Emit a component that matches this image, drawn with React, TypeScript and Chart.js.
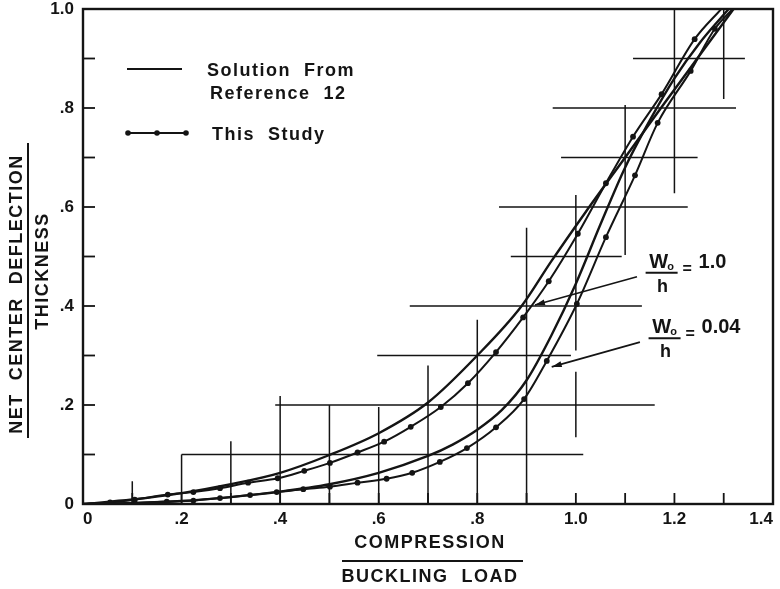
import React, { useEffect, useRef } from 'react';
import { Chart, registerables } from 'chart.js';

Chart.register(...registerables);

const INK = '#141414';
const FONT = '"Liberation Sans", "DejaVu Sans", sans-serif';

// ---- axis ticks ----
const xTickLabels = ['0', '.2', '.4', '.6', '.8', '1.0', '1.2', '1.4'];
const yTickLabels = ['0', '.2', '.4', '.6', '.8', '1.0'];
const xMinorTicks = [0.1, 0.2, 0.3, 0.4, 0.5, 0.6, 0.7, 0.8, 0.9, 1.0, 1.1, 1.2, 1.3];
const yMinorTicks = [0.1, 0.2, 0.3, 0.4, 0.5, 0.6, 0.7, 0.8, 0.9];

// ---- Solution from Reference 12, Wo/h = 1.0 (solid) ----
const refW1X = [0, 0.1, 0.2, 0.3, 0.4, 0.5, 0.6, 0.7, 0.8, 0.89, 0.95, 1.02, 1.1, 1.18, 1.25, 1.32];
const refW1Y = [0, 0.009, 0.022, 0.04, 0.063, 0.099, 0.143, 0.205, 0.3, 0.4, 0.49, 0.59, 0.7, 0.81, 0.905, 1.0];

// ---- Solution from Reference 12, Wo/h = 0.04 (solid) ----
const refW004X = [0, 0.1, 0.2, 0.3, 0.4, 0.5, 0.6, 0.7, 0.75, 0.8, 0.85, 0.9, 0.95, 1.0, 1.05, 1.1, 1.15, 1.2, 1.25, 1.31];
const refW004Y = [0, 0.002, 0.006, 0.014, 0.025, 0.04, 0.063, 0.097, 0.12, 0.15, 0.19, 0.25, 0.34, 0.445, 0.565, 0.68, 0.775, 0.86, 0.93, 1.0];

// ---- This Study, Wo/h = 1.0 (line with dots) ----
const studyW1X = [0, 0.055, 0.105, 0.172, 0.224, 0.278, 0.335, 0.395, 0.449, 0.501, 0.557, 0.611, 0.665, 0.726, 0.781, 0.838, 0.893, 0.945, 1.004, 1.061, 1.116, 1.174, 1.241, 1.295];
const studyW1Y = [0, 0.003, 0.009, 0.019, 0.024, 0.032, 0.043, 0.052, 0.067, 0.083, 0.104, 0.126, 0.156, 0.196, 0.244, 0.307, 0.377, 0.45, 0.546, 0.648, 0.742, 0.828, 0.939, 1.0];

// ---- This Study, Wo/h = 0.04 (line with dots) ----
const studyW004X = [0, 0.055, 0.105, 0.17, 0.224, 0.278, 0.339, 0.393, 0.447, 0.501, 0.557, 0.616, 0.668, 0.724, 0.779, 0.838, 0.895, 0.941, 1.002, 1.061, 1.12, 1.166, 1.233, 1.282, 1.318];
const studyW004Y = [0, 0.001, 0.002, 0.005, 0.007, 0.012, 0.018, 0.024, 0.03, 0.035, 0.043, 0.051, 0.063, 0.085, 0.113, 0.155, 0.212, 0.289, 0.404, 0.539, 0.664, 0.77, 0.875, 0.96, 1.0];

// ---- construction (plotting) lines of the original drawing ----
const hLineY = [0.1, 0.2, 0.3, 0.4, 0.5, 0.6, 0.7, 0.8, 0.9];
const hLineX1 = [0.2, 0.39, 0.597, 0.663, 0.868, 0.844, 0.97, 0.953, 1.116];
const hLineX2 = [1.015, 1.16, 0.99, 1.134, 1.093, 1.227, 1.247, 1.325, 1.343];
const vLineX = [0.1, 0.2, 0.3, 0.4, 0.5, 0.6, 0.7, 0.8, 0.9, 1.0, 1.0, 1.1, 1.2, 1.3];
const vLineY1 = [0, 0, 0, 0, 0, 0, 0, 0, 0, 0.135, 0.31, 0.503, 0.628, 0.818];
const vLineY2 = [0.046, 0.1, 0.127, 0.218, 0.2, 0.196, 0.28, 0.372, 0.558, 0.267, 0.624, 0.806, 1.0, 1.0];

// ---- annotation arrows (data coordinates: from label to curve) ----
const arrowFromX = [1.124, 1.13];
const arrowFromY = [0.459, 0.327];
const arrowToX = [0.917, 0.951];
const arrowToY = [0.402, 0.277];
const labelValues = ['1.0', '0.04'];
const labelBarX = [1.174, 1.18];
const labelBarY = [0.467, 0.335];

const pts = (xs: number[], ys: number[]) => xs.map((x, i) => ({ x, y: ys[i] }));

function buildSegments() {
  const data: { x: number; y: number | null }[] = [];
  hLineY.forEach((y, i) => {
    data.push({ x: hLineX1[i], y }, { x: hLineX2[i], y }, { x: hLineX2[i], y: null });
  });
  vLineX.forEach((x, i) => {
    data.push({ x, y: vLineY1[i] }, { x, y: vLineY2[i] }, { x, y: null });
  });
  return data;
}

function drawFracLabel(ctx: CanvasRenderingContext2D, cx: number, cy: number, value: string) {
  ctx.save();
  ctx.fillStyle = INK;
  ctx.strokeStyle = INK;
  ctx.font = `bold 20px ${FONT}`;
  ctx.textAlign = 'center';
  ctx.textBaseline = 'alphabetic';
  ctx.fillText('W', cx - 3, cy - 5);
  // subscript o
  ctx.font = `bold 11px ${FONT}`;
  ctx.fillText('o', cx + 9, cy - 3);
  // fraction bar
  ctx.lineWidth = 2;
  ctx.beginPath();
  ctx.moveTo(cx - 16, cy);
  ctx.lineTo(cx + 16, cy);
  ctx.stroke();
  ctx.font = `bold 18px ${FONT}`;
  ctx.fillText('h', cx + 1, cy + 19);
  ctx.textAlign = 'left';
  ctx.font = `bold 16px ${FONT}`;
  ctx.fillText('=', cx + 21, cy + 1);
  ctx.font = `bold 20px ${FONT}`;
  ctx.fillText(value, cx + 37, cy - 5);
  ctx.restore();
}

const decorPlugin = {
  id: 'decor',
  afterDraw(chart: any) {
    const { ctx, chartArea: ca } = chart;
    const xs = chart.scales.x;
    const ys = chart.scales.y;
    const line = (x1: number, y1: number, x2: number, y2: number) => {
      ctx.beginPath();
      ctx.moveTo(x1, y1);
      ctx.lineTo(x2, y2);
      ctx.stroke();
    };
    ctx.save();
    ctx.strokeStyle = INK;
    ctx.fillStyle = INK;
    ctx.lineCap = 'butt';

    // frame
    ctx.lineWidth = 2.4;
    ctx.strokeRect(ca.left, ca.top, ca.right - ca.left, ca.bottom - ca.top);

    // inward ticks
    ctx.lineWidth = 1.8;
    xMinorTicks.forEach((v) => {
      const px = xs.getPixelForValue(v);
      line(px, ca.bottom, px, ca.bottom - 11);
    });
    yMinorTicks.forEach((v) => {
      const py = ys.getPixelForValue(v);
      line(ca.left, py, ca.left + 12, py);
    });

    // y-axis title (fraction)
    ctx.font = `bold 18px ${FONT}`;
    (ctx as any).letterSpacing = '1.5px';
    ctx.textAlign = 'center';
    ctx.textBaseline = 'middle';
    ctx.save();
    ctx.translate(17, 294);
    ctx.rotate(-Math.PI / 2);
    ctx.fillText('NET  CENTER  DEFLECTION', 0, 0);
    ctx.restore();
    ctx.save();
    ctx.translate(43, 271);
    ctx.rotate(-Math.PI / 2);
    ctx.fillText('THICKNESS', 0, 0);
    ctx.restore();
    ctx.lineWidth = 2;
    line(28, 143, 28, 438);

    // x-axis title (fraction)
    ctx.fillText('COMPRESSION', 430, 543);
    ctx.fillText('BUCKLING  LOAD', 430, 577);
    line(342, 561, 523, 561);

    // legend
    ctx.textAlign = 'left';
    ctx.textBaseline = 'alphabetic';
    ctx.font = `bold 18px ${FONT}`;
    (ctx as any).letterSpacing = '1.5px';
    ctx.lineWidth = 2;
    line(127, 69, 182, 69);
    ctx.fillText('Solution  From', 207, 76);
    ctx.fillText('Reference  12', 210, 99);
    line(128, 133, 186, 133);
    [128, 157, 186].forEach((px) => {
      ctx.beginPath();
      ctx.arc(px, 133, 2.8, 0, Math.PI * 2);
      ctx.fill();
    });
    ctx.fillText('This  Study', 212, 140);
    (ctx as any).letterSpacing = '0px';

    // annotation arrows
    ctx.lineWidth = 1.6;
    arrowFromX.forEach((fx, i) => {
      const x1 = xs.getPixelForValue(fx);
      const y1 = ys.getPixelForValue(arrowFromY[i]);
      const x2 = xs.getPixelForValue(arrowToX[i]);
      const y2 = ys.getPixelForValue(arrowToY[i]);
      line(x1, y1, x2, y2);
      const ang = Math.atan2(y2 - y1, x2 - x1);
      const L = 10;
      const W = 3;
      ctx.beginPath();
      ctx.moveTo(x2, y2);
      ctx.lineTo(x2 - L * Math.cos(ang) + W * Math.sin(ang), y2 - L * Math.sin(ang) - W * Math.cos(ang));
      ctx.lineTo(x2 - L * Math.cos(ang) - W * Math.sin(ang), y2 - L * Math.sin(ang) + W * Math.cos(ang));
      ctx.closePath();
      ctx.fill();
    });
    labelValues.forEach((v, i) => {
      drawFracLabel(ctx, xs.getPixelForValue(labelBarX[i]), ys.getPixelForValue(labelBarY[i]), v);
    });

    ctx.restore();
  },
};

export default function App() {
  const canvasRef = useRef<HTMLCanvasElement | null>(null);

  useEffect(() => {
    const canvas = canvasRef.current;
    if (!canvas) return;
    const lastIdx = (arr: number[]) => arr.length - 1;
    const dotRadius = (arr: number[]) => (c: any) =>
      c.dataIndex === 0 || c.dataIndex === lastIdx(arr) ? 0 : 2.9;

    const chart = new Chart(canvas, {
      type: 'scatter',
      data: {
        datasets: [
          {
            label: 'construction',
            data: buildSegments() as any,
            showLine: true,
            spanGaps: false,
            borderColor: INK,
            borderWidth: 1.5,
            pointRadius: 0,
            tension: 0,
          },
          {
            label: 'Solution From Reference 12 (Wo/h = 1.0)',
            data: pts(refW1X, refW1Y),
            showLine: true,
            borderColor: INK,
            borderWidth: 2.4,
            pointRadius: 0,
            cubicInterpolationMode: 'monotone',
          },
          {
            label: 'Solution From Reference 12 (Wo/h = 0.04)',
            data: pts(refW004X, refW004Y),
            showLine: true,
            borderColor: INK,
            borderWidth: 2.4,
            pointRadius: 0,
            cubicInterpolationMode: 'monotone',
          },
          {
            label: 'This Study (Wo/h = 1.0)',
            data: pts(studyW1X, studyW1Y),
            showLine: true,
            borderColor: INK,
            borderWidth: 2,
            pointRadius: dotRadius(studyW1X),
            pointBackgroundColor: INK,
            pointBorderColor: INK,
            pointBorderWidth: 0,
            cubicInterpolationMode: 'monotone',
          },
          {
            label: 'This Study (Wo/h = 0.04)',
            data: pts(studyW004X, studyW004Y),
            showLine: true,
            borderColor: INK,
            borderWidth: 2,
            pointRadius: dotRadius(studyW004X),
            pointBackgroundColor: INK,
            pointBorderColor: INK,
            pointBorderWidth: 0,
            cubicInterpolationMode: 'monotone',
          },
        ],
      },
      options: {
        animation: false,
        responsive: false,
        devicePixelRatio: 1,
        events: [],
        layout: { padding: { left: 0, right: 7, top: 9, bottom: 0 } },
        plugins: {
          legend: { display: false },
          tooltip: { enabled: false },
        },
        scales: {
          x: {
            type: 'linear',
            min: 0,
            max: 1.4,
            afterFit: (s: any) => {
              s.height = 85;
              s.paddingLeft = 0;
              s.paddingRight = 0;
            },
            grid: { display: false, drawTicks: false },
            border: { display: false },
            ticks: {
              stepSize: 0.2,
              autoSkip: false,
              maxRotation: 0,
              align: 'inner',
              padding: 5,
              color: INK,
              font: { family: FONT, weight: 'bold', size: 17 },
              callback: (v: any) => xTickLabels[Math.round(Number(v) / 0.2)] ?? '',
            },
          },
          y: {
            type: 'linear',
            min: 0,
            max: 1.0,
            afterFit: (s: any) => {
              s.width = 83;
              s.paddingTop = 0;
              s.paddingBottom = 0;
            },
            grid: { display: false, drawTicks: false },
            border: { display: false },
            ticks: {
              stepSize: 0.2,
              autoSkip: false,
              padding: 9,
              color: INK,
              font: { family: FONT, weight: 'bold', size: 17 },
              callback: (v: any) => yTickLabels[Math.round(Number(v) / 0.2)] ?? '',
            },
          },
        },
      },
      plugins: [decorPlugin],
    });

    return () => chart.destroy();
  }, []);

  return (
    <div style={{ position: 'absolute', left: 0, top: 0, width: 780, height: 589, background: '#fff' }}>
      <canvas ref={canvasRef} width={780} height={589} style={{ display: 'block' }} />
    </div>
  );
}
